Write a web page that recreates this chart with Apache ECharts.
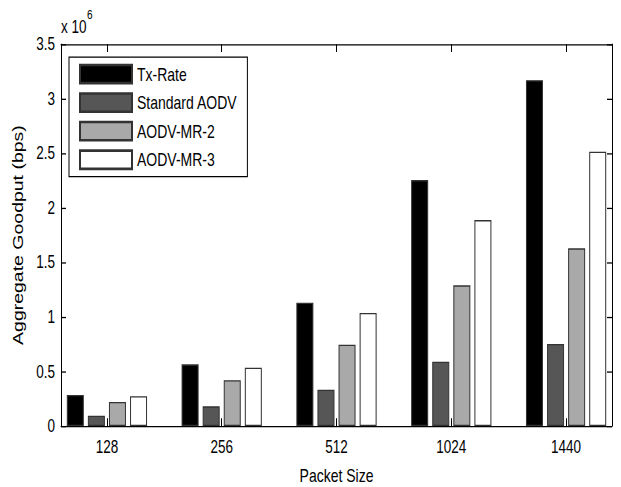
<!DOCTYPE html>
<html>
<head>
<meta charset="utf-8">
<script src="https://cdn.jsdelivr.net/npm/echarts@6/dist/echarts.min.js"></script>
<style>
  body { margin: 0; background: #fff; }
  #wrap { width: 621px; height: 487px; overflow: hidden; }
  /* the original figure is stretched vertically, so draw at 375px and stretch */
  #main { width: 621px; height: 375px; transform: scaleY(1.29867); transform-origin: 0 0; }
</style>
</head>
<body>
<div id="wrap"><div id="main"></div></div>
<script>
  // packet sizes (bytes) and goodput in units of 10^6 bps
  var packetSizes = ['128', '256', '512', '1024', '1440']
  var groupPos = [1, 2, 3, 4, 5]
  var txRate = [0.284, 0.565, 1.13, 2.254, 3.17]
  var standardAodv = [0.094, 0.18, 0.333, 0.589, 0.751]
  var aodvMr2 = [0.22, 0.42, 0.745, 1.289, 1.628]
  var aodvMr3 = [0.272, 0.534, 1.035, 1.887, 2.513]

  var font = "'Liberation Sans', Arial, sans-serif"

  function pairs (values) {
    return values.map(function (v, i) { return [groupPos[i], v] })
  }

  function barSeries (name, values, color) {
    return {
      name: name,
      type: 'bar',
      data: pairs(values),
      barWidth: 17,
      barGap: '24%',
      itemStyle: { color: color, borderColor: '#333', borderWidth: 1 },
      emphasis: { disabled: true }
    }
  }

  var mychart = echarts.init(document.getElementById('main'), null, { renderer: 'svg' })
  var options = {
    animation: false,
    textStyle: { fontFamily: font },
    grid: { left: 61, right: 9, top: 34, height: 294, outerBoundsMode: 'none', containLabel: false },
    legend: {
      orient: 'vertical',
      left: 69,
      top: 44,
      itemWidth: 52,
      itemHeight: 14,
      itemGap: 6,
      padding: [5, 10, 5, 10],
      backgroundColor: '#fff',
      borderColor: '#000',
      borderWidth: 1,
      icon: 'rect',
      textStyle: { fontSize: 14, color: '#000', fontFamily: font },
      data: ['Tx-Rate', 'Standard AODV', 'AODV-MR-2', 'AODV-MR-3']
    },
    graphic: [
      { type: 'text', left: 61, top: 14, style: { text: 'x 10', fontSize: 13.5, fill: '#000', fontFamily: font } },
      { type: 'text', left: 87, top: 6, style: { text: '6', fontSize: 10, fill: '#000', fontFamily: font } }
    ],
    xAxis: [
      {
        type: 'value',
        min: 0.6,
        max: 5.4,
        position: 'bottom',
        name: 'Packet Size',
        nameLocation: 'middle',
        nameGap: 31,
        nameTextStyle: { fontSize: 14, color: '#000' },
        axisLine: { show: true, onZero: false, lineStyle: { color: '#000' } },
        axisTick: { show: true, inside: true, length: 6, customValues: groupPos, lineStyle: { color: '#000' } },
        axisLabel: {
          customValues: groupPos,
          margin: 9,
          fontSize: 13.5,
          color: '#000',
          formatter: function (v) { return packetSizes[Math.round(v) - 1] }
        },
        splitLine: { show: false }
      },
      {
        type: 'value',
        min: 0.6,
        max: 5.4,
        position: 'top',
        axisLine: { show: true, onZero: false, lineStyle: { color: '#000' } },
        axisTick: { show: true, inside: true, length: 6, customValues: groupPos, lineStyle: { color: '#000' } },
        axisLabel: { show: false },
        splitLine: { show: false }
      }
    ],
    yAxis: [
      {
        type: 'value',
        min: 0,
        max: 3.5,
        interval: 0.5,
        position: 'left',
        name: 'Aggregate Goodput (bps)',
        nameLocation: 'middle',
        nameGap: 33,
        nameTextStyle: { fontSize: 15, color: '#000' },
        axisLine: { show: true, lineStyle: { color: '#000' } },
        axisTick: { show: true, inside: true, length: 5, lineStyle: { color: '#000' } },
        axisLabel: { margin: 6, fontSize: 13.5, color: '#000' },
        splitLine: { show: false }
      },
      {
        type: 'value',
        min: 0,
        max: 3.5,
        interval: 0.5,
        position: 'right',
        axisLine: { show: true, lineStyle: { color: '#000' } },
        axisTick: { show: true, inside: true, length: 5, lineStyle: { color: '#000' } },
        axisLabel: { show: false },
        splitLine: { show: false }
      }
    ],
    series: [
      barSeries('Tx-Rate', txRate, '#000'),
      barSeries('Standard AODV', standardAodv, '#565656'),
      barSeries('AODV-MR-2', aodvMr2, '#a9a9a9'),
      barSeries('AODV-MR-3', aodvMr3, '#fff')
    ]
  }
  mychart.setOption(options)
</script>
</body>
</html>
